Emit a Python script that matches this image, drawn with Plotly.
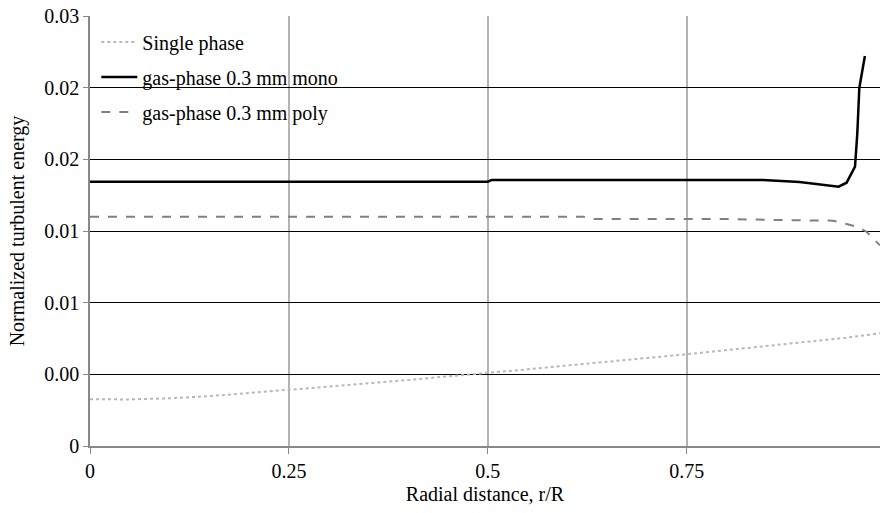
import plotly.graph_objects as go

# ---- data ----
r_single = [0, 0.05, 0.1, 0.15, 0.2, 0.25, 0.3, 0.35, 0.4, 0.45, 0.5, 0.55, 0.6,
            0.65, 0.7, 0.75, 0.8, 0.85, 0.9, 0.95, 0.993]
k_single = [0.00326, 0.00325, 0.00333, 0.00348, 0.00370, 0.00391, 0.00414, 0.00437,
            0.00461, 0.00484, 0.00507, 0.00535, 0.00562, 0.00590, 0.00614, 0.00640,
            0.00668, 0.00697, 0.00727, 0.00755, 0.00786]

r_mono = [0, 0.1, 0.2, 0.3, 0.4, 0.5, 0.505, 0.6, 0.7, 0.8, 0.846, 0.892, 0.934,
          0.941, 0.951, 0.959, 0.9616, 0.9645, 0.967, 0.974]
k_mono = [0.01844, 0.01844, 0.01844, 0.01844, 0.01844, 0.01844, 0.01856, 0.01856,
          0.01856, 0.01856, 0.01856, 0.01842, 0.01814, 0.01809, 0.01837, 0.01914,
          0.01949, 0.02184, 0.02498, 0.02721]

r_poly = [0, 0.1, 0.2, 0.3, 0.4, 0.5, 0.6, 0.62, 0.63, 0.7, 0.8, 0.86, 0.926, 0.934,
          0.951, 0.964, 0.976, 0.989, 0.993]
k_poly = [0.0160, 0.0160, 0.0160, 0.0160, 0.0160, 0.0160, 0.0160, 0.0160, 0.01584,
          0.01584, 0.01584, 0.01577, 0.01577, 0.01572, 0.01549, 0.0153, 0.01495,
          0.01425, 0.0140]

y_tickvals = [0, 0.005, 0.01, 0.015, 0.02, 0.025, 0.03]
y_ticktext = ["0", "0.00", "0.01", "0.01", "0.02", "0.02", "0.03"]
x_tickvals = [0, 0.25, 0.5, 0.75]
x_ticktext = ["0", "0.25", "0.5", "0.75"]

FONT = "Liberation Serif, 'Times New Roman', serif"
FS = 20

fig = go.Figure()
fig.add_trace(go.Scatter(x=r_single, y=k_single, mode="lines", name="Single phase",
                         legendgroup="a",
                         line=dict(color="#b8b8b8", width=2, dash="dot")))
fig.add_trace(go.Scatter(x=r_mono, y=k_mono, mode="lines", name="gas-phase 0.3 mm mono",
                         legendgroup="b",
                         line=dict(color="black", width=2.5)))
fig.add_trace(go.Scatter(x=r_poly, y=k_poly, mode="lines", name="gas-phase 0.3 mm poly",
                         legendgroup="c",
                         line=dict(color="#808080", width=2, dash="dash")))

fig.update_layout(
    width=880, height=513,
    margin=dict(l=90, r=0, t=16, b=67),
    paper_bgcolor="white", plot_bgcolor="white",
    font=dict(family=FONT, size=FS, color="black"),
    showlegend=True,
    legend=dict(x=0.008, y=0.985, xanchor="left", yanchor="top",
                bgcolor="rgba(0,0,0,0)", tracegroupgap=6, itemwidth=36,
                font=dict(family=FONT, size=FS, color="black")),
)
fig.update_xaxes(range=[0, 0.993], tickvals=x_tickvals, ticktext=x_ticktext,
                 tickfont=dict(family=FONT, size=FS, color="black"),
                 showgrid=True, gridcolor="#b3b3b3", gridwidth=1.5,
                 showline=True, linecolor="#888888", linewidth=1.5,
                 ticks="outside", ticklen=6, tickcolor="#888888",
                 zeroline=False,
                 title=dict(text="Radial distance, r/R", standoff=6,
                            font=dict(family=FONT, size=FS, color="black")))
fig.update_yaxes(range=[0, 0.03], tickvals=y_tickvals, ticktext=y_ticktext,
                 tickfont=dict(family=FONT, size=FS, color="black"),
                 showgrid=True, gridcolor="black", gridwidth=1,
                 showline=True, linecolor="#888888", linewidth=1.5,
                 ticks="outside", ticklen=5, tickcolor="#888888",
                 zeroline=False,
                 title=dict(text="Normalized turbulent energy", standoff=14,
                            font=dict(family=FONT, size=FS, color="black")))

fig.write_html("out.html", config={"displayModeBar": False},
               post_script="document.body.style.margin='0px';document.body.style.padding='0px';")
